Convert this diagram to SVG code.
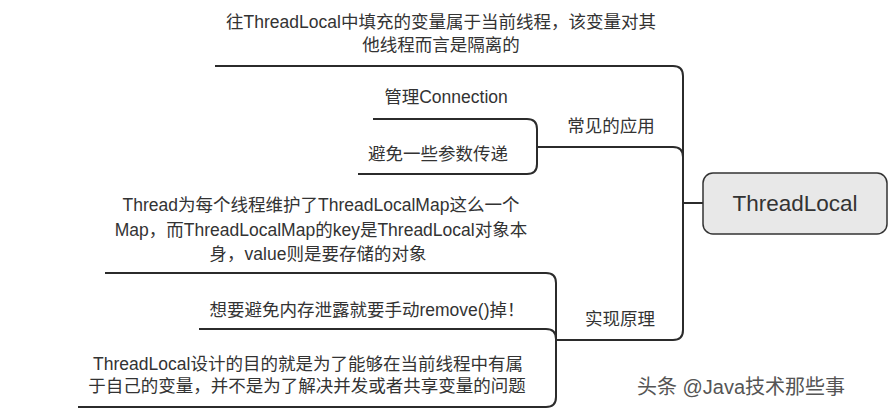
<svg xmlns="http://www.w3.org/2000/svg" width="888" height="412" viewBox="0 0 888 412">
<style>
.t{font-family:"Liberation Sans","Noto Sans CJK SC",sans-serif;font-size:17.5px;fill:#333;text-anchor:middle}
.c{fill:none;stroke:#2b2b2b;stroke-width:2}
.wm{font-family:"Liberation Sans","Noto Sans CJK SC",sans-serif;font-size:20px;fill:#555}
</style>
<rect width="888" height="412" fill="#fff"/>
<g id="connectors">
<path class="c" d="M703,203 H683"/>
<path class="c" d="M683,203 V76 Q683,66 673,66 H215"/>
<path class="c" d="M683,203 V157 Q683,147 673,147 H537"/>
<path class="c" d="M683,203 V330 Q683,340 673,340 H556"/>
<path class="c" d="M537,147 V129 Q537,119 527,119 H373"/>
<path class="c" d="M537,147 V164 Q537,174 527,174 H358"/>
<path class="c" d="M556,340 V283 Q556,273 546,273 H105"/>
<path class="c" d="M556,340 V339 Q556,329 546,329 H199"/>
<path class="c" d="M556,340 V397 Q556,407 546,407 H78"/>
</g>
<g id="root">
<rect x="703" y="173" width="184" height="61" rx="10" fill="#e8e8e8" stroke="#333" stroke-width="1.5"/>
<text class="t" x="795" y="211" style="font-size:22.5px">ThreadLocal</text>
</g>
<g id="n-isolation">
<text class="t" x="441" y="28">往ThreadLocal中填充的变量属于当前线程，该变量对其</text>
<text class="t" x="441" y="51">他线程而言是隔离的</text>
</g>
<g id="n-usage"><text class="t" x="611" y="132">常见的应用</text></g>
<g id="n-connection"><text class="t" x="446" y="103">管理Connection</text></g>
<g id="n-params"><text class="t" x="438" y="160">避免一些参数传递</text></g>
<g id="n-principle"><text class="t" x="620" y="325">实现原理</text></g>
<g id="n-map">
<text class="t" x="321" y="211">Thread为每个线程维护了ThreadLocalMap这么一个</text>
<text class="t" x="321" y="236">Map，而ThreadLocalMap的key是ThreadLocal对象本</text>
<text class="t" x="318" y="260">身，value则是要存储的对象</text>
</g>
<g id="n-remove"><text class="t" x="367" y="316">想要避免内存泄露就要手动remove()掉！</text></g>
<g id="n-purpose">
<text class="t" x="308" y="370">ThreadLocal设计的目的就是为了能够在当前线程中有属</text>
<text class="t" x="307" y="392">于自己的变量，并不是为了解决并发或者共享变量的问题</text>
</g>
<text class="wm" x="637" y="394">头条 @Java技术那些事</text>
</svg>
